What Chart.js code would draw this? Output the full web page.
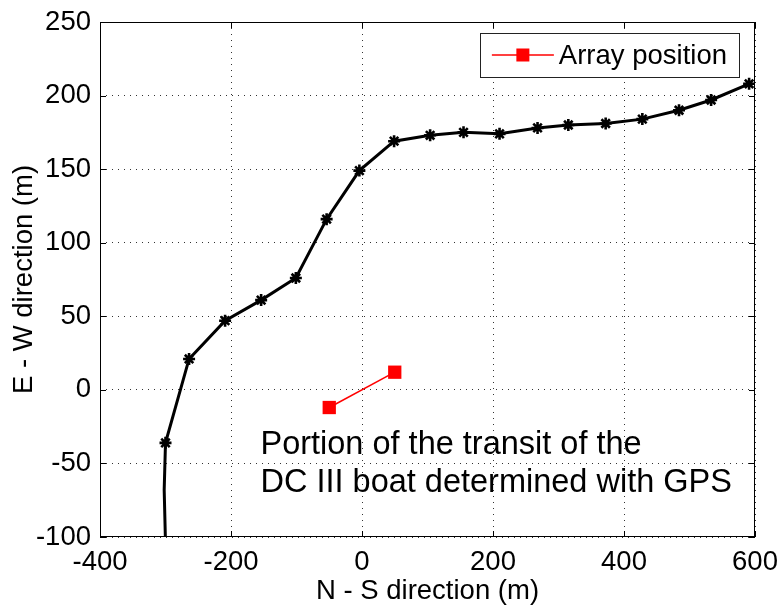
<!DOCTYPE html>
<html><head><meta charset="utf-8">
<script src="https://cdn.jsdelivr.net/npm/chart.js@4/dist/chart.umd.min.js"></script>
<style>html,body{margin:0;padding:0;background:#fff}#wrap{width:782px;height:610px}</style>
</head><body><div id="wrap"><canvas id="c" width="782" height="610"></canvas></div>
<script>
// ---- data ----
const transitNS = [-298, -302, -300, -264, -209, -154, -101, -54, -4, 49, 104, 155, 210, 268, 315, 372, 428, 484, 533, 591];
const transitEW = [-140, -68, -36, 21, 47, 61, 76, 116, 149, 169, 173, 175, 174, 178, 180, 181, 184, 190, 197, 208];
const arrayNS = [-50, 50];
const arrayEW = [-12, 12];
const xTicks = [-400, -200, 0, 200, 400, 600];
const yTicks = [-100, -50, 0, 50, 100, 150, 200, 250];
const xTitle = 'N - S direction (m)';
const yTitle = 'E - W direction (m)';
const legendLabel = 'Array position';
const noteLines = ['Portion of the transit of the', 'DC III boat determined with GPS'];

const FONT = "'Liberation Sans', Arial, Helvetica, sans-serif";
const toPts = (xs, ys) => xs.map((v, i) => ({x: v, y: ys[i]}));

const framePlugin = {
  id: 'frame',
  afterDraw(chart) {
    const {ctx, chartArea: a, scales: {x, y}} = chart;
    ctx.save();
    ctx.setLineDash([]);
    ctx.strokeStyle = '#000';
    ctx.lineWidth = 1;
    ctx.strokeRect(a.left + 0.5, a.top + 0.5, a.right - a.left - 1, a.bottom - a.top - 1);
    const tl = 6;
    ctx.beginPath();
    x.ticks.forEach(t => {
      const px = Math.round(x.getPixelForValue(t.value)) + 0.5;
      ctx.moveTo(px, a.bottom); ctx.lineTo(px, a.bottom - tl);
      ctx.moveTo(px, a.top); ctx.lineTo(px, a.top + tl);
    });
    y.ticks.forEach(t => {
      const py = Math.round(y.getPixelForValue(t.value)) + 0.5;
      ctx.moveTo(a.left, py); ctx.lineTo(a.left + tl, py);
      ctx.moveTo(a.right, py); ctx.lineTo(a.right - tl, py);
    });
    ctx.stroke();

    // legend box
    const ds = chart.data.datasets[1];
    ctx.font = '27.5px ' + FONT;
    const tw = ctx.measureText(ds.label).width;
    const boxW = 12 + 62 + 5 + tw + 12, boxH = 44;
    const bx = a.right - 16 - boxW, by = a.top + 11;
    ctx.fillStyle = '#fff';
    ctx.fillRect(bx, by, boxW, boxH);
    ctx.strokeStyle = '#222';
    ctx.strokeRect(Math.round(bx) + 0.5, by + 0.5, Math.round(boxW), boxH);
    const cy = by + boxH / 2;
    ctx.strokeStyle = ds.borderColor; ctx.lineWidth = ds.borderWidth;
    ctx.beginPath(); ctx.moveTo(bx + 12, cy); ctx.lineTo(bx + 74, cy); ctx.stroke();
    ctx.fillStyle = ds.pointBackgroundColor;
    ctx.fillRect(bx + 43 - 6.5, cy - 6.5, 13, 13);
    ctx.fillStyle = '#000';
    ctx.textBaseline = 'middle'; ctx.textAlign = 'left';
    ctx.fillText(ds.label, bx + 79, cy + 1);

    // annotation
    ctx.font = '32.5px ' + FONT;
    ctx.textBaseline = 'alphabetic';
    const nx = x.getPixelForValue(-155);
    const ny = y.getPixelForValue(-43.5);
    noteLines.forEach((s, i) => ctx.fillText(s, nx, ny + i * 37.7));
    ctx.restore();
  }
};

new Chart(document.getElementById('c'), {
  type: 'scatter',
  data: {
    datasets: [
      {
        label: 'Transit',
        data: toPts(transitNS, transitEW),
        showLine: true,
        borderColor: '#000',
        borderWidth: 3,
        pointStyle: 'star',
        pointRadius: c => (c.dataIndex < 2 ? 0 : 6),
        pointBorderColor: '#000',
        pointBorderWidth: 2.6,
        pointBackgroundColor: '#000',
        order: 2
      },
      {
        label: legendLabel,
        data: toPts(arrayNS, arrayEW),
        showLine: true,
        borderColor: '#ff0000',
        borderWidth: 1.5,
        pointStyle: 'rect',
        pointRadius: 9.4,
        pointBorderWidth: 0,
        pointBackgroundColor: '#ff0000',
        pointBorderColor: '#ff0000',
        order: 1
      }
    ]
  },
  options: {
    responsive: false,
    devicePixelRatio: 1,
    animation: false,
    events: [],
    layout: {padding: {top: 22, right: 27, left: 0, bottom: 0}},
    plugins: {legend: {display: false}, tooltip: {enabled: false}},
    scales: {
      x: {
        type: 'linear', min: -400, max: 600,
        afterBuildTicks: s => { s.ticks = xTicks.map(v => ({value: v})); },
        afterFit: s => { s.height = 73; s.paddingLeft = 0; s.paddingRight = 0; },
        grid: {color: '#333', lineWidth: 1, drawTicks: false},
        border: {display: false, dash: [1, 5]},
        ticks: {autoSkip: false, maxRotation: 0, padding: 9, color: '#000', font: {family: FONT, size: 27.5}},
        title: {display: true, text: xTitle, color: '#000', padding: {top: 0, bottom: 2}, font: {family: FONT, size: 27.5}}
      },
      y: {
        type: 'linear', min: -100, max: 250,
        afterBuildTicks: s => { s.ticks = yTicks.map(v => ({value: v})); },
        afterFit: s => { s.width = 100; s.paddingTop = 0; s.paddingBottom = 0; },
        grid: {color: '#333', lineWidth: 1, drawTicks: false},
        border: {display: false, dash: [1, 5]},
        ticks: {autoSkip: false, padding: 9, color: '#000', font: {family: FONT, size: 27.5}},
        title: {display: true, text: yTitle, color: '#000', padding: {top: 8, bottom: 0}, font: {family: FONT, size: 27.5}}
      }
    }
  },
  plugins: [framePlugin]
});
</script>
</body></html>
